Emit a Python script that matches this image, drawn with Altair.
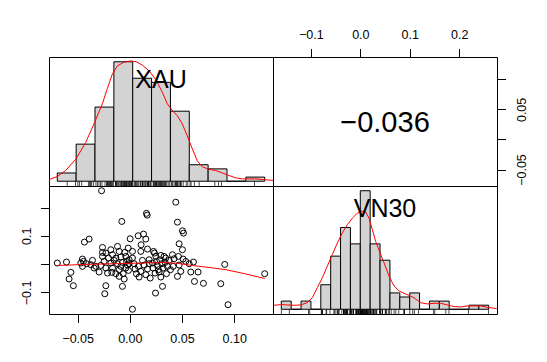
import altair as alt
import pandas as pd

FONT = "Liberation Sans"

# ---- scatter data (XAU, VN30 returns) ----
xau = [-0.0695, -0.0607,
       -0.0565, -0.0582, -0.0541, -0.0454, -0.0444, -0.0454, -0.0435, -0.0415, -0.0470,
       -0.0271, -0.0390, -0.0262, -0.0262, -0.0230, -0.0240, -0.0230, -0.0358, -0.0326,
       -0.0294, -0.0278, -0.0262, -0.0246, -0.0230, -0.0214, -0.0342, -0.0205, -0.0374,
       -0.0182, -0.0118, -0.0166, -0.0102, -0.0077, -0.0071, -0.0016, -0.0182, -0.0166,
       -0.0150, -0.0134, -0.0118, -0.0102, -0.0102, -0.0086, -0.0086, -0.0071, -0.0064,
       -0.0054, -0.0039, -0.0039, -0.0032, -0.0023, -0.0013, -0.0007, -0.0173, -0.0134,
       -0.0048, -0.0007,
       0.0003, 0.0025, 0.0080, 0.0131, 0.0153, 0.0159, 0.0166, 0.0108, 0.0105, 0.0025,
       0.0169, 0.0185, 0.0025, 0.0041, 0.0050, 0.0063, 0.0082, 0.0089, 0.0105, 0.0121,
       0.0137, 0.0153, 0.0169, 0.0185, 0.0195,
       0.0227, 0.0236, 0.0249, 0.0328, 0.0344, 0.0297, 0.0246, 0.0313, 0.0281, 0.0297,
       0.0217, 0.0223, 0.0242, 0.0255, 0.0265, 0.0274, 0.0287, 0.0307, 0.0319, 0.0338,
       0.0351, 0.0360, 0.0376, 0.0389,
       0.0440, 0.0456, 0.0504, 0.0514, 0.0472, 0.0504, 0.0408, 0.0466, 0.0510, 0.0536,
       0.0424, 0.0568, 0.0456, 0.0488, 0.0584, 0.0415, 0.0472,
       0.0609, 0.0619, 0.0654, 0.0705,
       0.0871, 0.0909, 0.0941,
       0.1292]
vn30 = [0.0037, 0.0072,
        -0.0293, -0.0529, -0.0765, 0.0178, 0.0095, -0.0081, 0.0778, 0.0013, 0.0037,
        0.2595, 0.0885, 0.0590, 0.0413, 0.0390, -0.1049, -0.0765, 0.0131, -0.0081,
        -0.0281, -0.0046, 0.0272, 0.0095, -0.0140, -0.0317, -0.0140, 0.0213, -0.0022,
        0.0508, 0.0626, 0.0331, 0.0449, 0.1509, -0.0788, 0.0567, 0.0037, -0.0140,
        0.0131, -0.0340, 0.0013, -0.0199, -0.0434, 0.0249, -0.0081, 0.0060, -0.0340,
        -0.0529, 0.0272, -0.0140, 0.0095, -0.0034, -0.0222, 0.0155, -0.0293, 0.0213,
        0.0413, 0.0013,
        0.0895, -0.1598, 0.1002, 0.1061, 0.0885, 0.1795, 0.1732, 0.0684, 0.0449, 0.0449,
        0.0531, 0.0154, 0.0213, 0.0013, -0.0175, -0.0340, -0.0081, -0.0458, -0.0258, 0.0131,
        -0.0034, -0.0376, -0.0175, 0.0013, -0.0494,
        0.0449, 0.0390, 0.0272, 0.0272, 0.0213, 0.0307, -0.1025, -0.0788, -0.0281, -0.0458,
        0.0037, -0.0140, -0.0317, 0.0095, -0.0058, -0.0199, 0.0154, 0.0013, -0.0140, 0.0060,
        -0.0340, -0.0081, 0.0131, -0.0199,
        0.2190, 0.1484, 0.1178, 0.1095, 0.0719, 0.0508, 0.0331, 0.0272, 0.0178, 0.0095,
        0.0190, 0.0013, -0.0435, -0.0258, -0.0281, -0.0081, -0.0034,
        0.0072, -0.0614, -0.0281, -0.0681,
        -0.0693, -0.0011, -0.1437,
        -0.0340]

# ---- histograms (breaks and counts) ----
xau_breaks = [-0.08, -0.06, -0.04, -0.02, 0.00, 0.02, 0.04, 0.06, 0.08, 0.10, 0.12, 0.14]
xau_counts = [2, 9, 18, 29, 25, 24, 17, 4, 3, 0, 1]
vn30_breaks = [-0.16, -0.14, -0.12, -0.10, -0.08, -0.06, -0.04, -0.02, 0.00, 0.02, 0.04,
               0.06, 0.08, 0.10, 0.12, 0.14, 0.16, 0.18, 0.20, 0.22, 0.24, 0.26]
vn30_counts = [2, 0, 2, 0, 6, 13, 20, 16, 29, 16, 12, 4, 3, 4, 0, 2, 2, 0, 0, 1, 1]

# ---- kernel density curves (in histogram count units) ----
xau_dens_x = [-0.0888, -0.0800, -0.0711, -0.0605, -0.0499, -0.0404, -0.0322, -0.0269,
              -0.0216, -0.0163, -0.0092, -0.0022, 0.0038, 0.0102, 0.0173, 0.0244, 0.0314,
              0.0367, 0.0420, 0.0473, 0.0526, 0.0579, 0.0633, 0.0686, 0.0739, 0.0809,
              0.0880, 0.0951, 0.1021, 0.1092, 0.1163, 0.1234, 0.1304, 0.1375, 0.1488]
xau_dens_y = [0.41, 1.14, 2.61, 5.31, 9.39, 14.3, 18.8, 22.5, 26.0, 28.0, 28.9, 29.2, 29.0,
              28.2, 26.8, 24.7, 21.6, 18.8, 17.2, 15.9, 13.9, 11.0, 7.8, 4.9, 3.5, 2.9,
              2.6, 2.0, 1.4, 0.82, 0.57, 0.57, 0.57, 0.41, 0.2]
vn30_dens_x = [-0.1748, -0.1613, -0.1478, -0.1343, -0.1208, -0.1073, -0.0971, -0.0870,
               -0.0769, -0.0667, -0.0566, -0.0465, -0.0364, -0.0262, -0.0161, -0.0060,
               0.0021, 0.0109, 0.0176, 0.0244, 0.0311, 0.0399, 0.0480, 0.0581, 0.0682,
               0.0784, 0.0885, 0.0986, 0.1087, 0.1222, 0.1357, 0.1492, 0.1627, 0.1762,
               0.1897, 0.2032, 0.2167, 0.2302, 0.2437, 0.2606, 0.2761]
vn30_dens_y = [0.97, 1.14, 1.06, 0.97, 1.06, 1.62, 2.84, 5.28, 7.71, 10.56, 13.4, 16.2,
               18.7, 20.7, 22.3, 23.5, 24.0, 23.8, 22.3, 19.5, 16.6, 13.8, 11.4, 8.1, 5.7,
               4.5, 3.9, 3.4, 2.8, 1.6, 1.3, 1.46, 1.46, 1.06, 0.65, 0.57, 0.81, 0.81,
               0.81, 0.41, 0.16]

# ---- lowess smooth in the scatter panel ----
lowess_x = [-0.0695, -0.045, -0.013, 0.018, 0.033, 0.045, 0.060, 0.076, 0.092, 0.110, 0.1292]
lowess_y = [-0.005, -0.0015, 0.0015, 0.0045, 0.0055, 0.003, -0.005, -0.012, -0.0198, -0.034, -0.051]

corr_text = ["\u22120.036"]
names = ["XAU", "VN30"]

W, H1, H2 = 224, 129, 128


def pad_range(lo, hi, f=0.04):
    r = hi - lo
    return [lo - f * r, hi + f * r]


xau_dom = pad_range(min(xau), max(xau))
vn_dom = pad_range(min(vn30), max(vn30))


def diag_panel(label, breaks, counts, dens_x, dens_y, rug_vals, h):
    xdom = pad_range(breaks[0], breaks[-1])
    cmax = max(counts)
    ydom = [-0.04 * cmax, 1.04 * cmax]
    xs = alt.Scale(domain=xdom, nice=False, zero=False)
    ys = alt.Scale(domain=ydom, nice=False, zero=False)
    bdf = pd.DataFrame({"left": breaks[:-1], "right": breaks[1:], "count": counts,
                        "base": [0] * len(counts)})
    bars = alt.Chart(bdf).mark_rect(fill="#D3D3D3", stroke="black", strokeWidth=1).encode(
        x=alt.X("left:Q", scale=xs, axis=None), x2="right:Q",
        y=alt.Y("base:Q", scale=ys, axis=None), y2="count:Q")
    ddf = pd.DataFrame({"x": dens_x, "y": dens_y})
    dens = alt.Chart(ddf).mark_line(color="red", strokeWidth=1, clip=True).encode(
        x=alt.X("x:Q", scale=xs, axis=None), y=alt.Y("y:Q", scale=ys, axis=None))
    rdf = pd.DataFrame({"v": rug_vals})
    rug = alt.Chart(rdf).mark_rule(color="black", strokeWidth=0.7).encode(
        x=alt.X("v:Q", scale=xs, axis=None),
        y=alt.YDatum(ydom[0], scale=ys, axis=None),
        y2=alt.datum(ydom[0] + 0.035 * (ydom[1] - ydom[0])))
    tdf = pd.DataFrame({"t": [label]})
    txt = alt.Chart(tdf).mark_text(font=FONT, fontSize=25, color="black").encode(
        text="t:N",
        x=alt.XDatum((xdom[0] + xdom[1]) / 2, scale=xs, axis=None),
        y=alt.YDatum(ydom[0] + 0.823 * (ydom[1] - ydom[0]), scale=ys, axis=None))
    return alt.layer(bars, dens, rug, txt).properties(width=W, height=h)


tl = diag_panel(names[0], xau_breaks, xau_counts, xau_dens_x, xau_dens_y, xau, H1)
br = diag_panel(names[1], vn30_breaks, vn30_counts, vn30_dens_x, vn30_dens_y, vn30, H2)

# correlation panel (x: VN30, y: XAU)
cdf = pd.DataFrame({"t": corr_text})
tr = alt.Chart(cdf).mark_text(font=FONT, fontSize=29, color="black").encode(
    text="t:N",
    x=alt.XDatum((vn_dom[0] + vn_dom[1]) / 2,
                 scale=alt.Scale(domain=vn_dom, nice=False, zero=False),
                 axis=alt.Axis(orient="top", values=[-0.1, 0.0, 0.1, 0.2], format=".1f",
                               title=None, labelPadding=7.4)),
    y=alt.YDatum(xau_dom[0] + 0.487 * (xau_dom[1] - xau_dom[0]),
                 scale=alt.Scale(domain=xau_dom, nice=False, zero=False),
                 axis=alt.Axis(orient="right", values=[-0.05, 0.0, 0.05, 0.10], format=".2f",
                               title=None, labelAngle=270, labelAlign="center",
                               labelBaseline="top", labelPadding=10.3,
                               labelExpr="abs(abs(datum.value) - 0.05) < 0.001 ? datum.label : ''")),
).properties(width=W, height=H1)

# scatter panel (x: XAU, y: VN30)
sdf = pd.DataFrame({"xau": xau, "vn30": vn30})
xs_s = alt.Scale(domain=xau_dom, nice=False, zero=False)
ys_s = alt.Scale(domain=vn_dom, nice=False, zero=False)
pts = alt.Chart(sdf).mark_point(shape="circle", filled=False, size=36, color="black",
                                strokeWidth=1, opacity=1).encode(
    x=alt.X("xau:Q", scale=xs_s,
            axis=alt.Axis(orient="bottom", values=[-0.05, 0.0, 0.05, 0.10], format=".2f",
                          title=None, labelPadding=10)),
    y=alt.Y("vn30:Q", scale=ys_s,
            axis=alt.Axis(orient="left", values=[-0.1, 0.0, 0.1, 0.2], format=".1f",
                          title=None, labelAngle=270, labelAlign="center",
                          labelBaseline="bottom", labelPadding=7.1,
                          labelExpr="abs(abs(datum.value) - 0.1) < 0.001 ? datum.label : ''")))
ldf = pd.DataFrame({"x": lowess_x, "y": lowess_y})
low = alt.Chart(ldf).mark_line(color="red", strokeWidth=1).encode(
    x=alt.X("x:Q", scale=xs_s), y=alt.Y("y:Q", scale=ys_s))
bl = alt.layer(pts, low).properties(width=W, height=H2)

chart = alt.concat(tl, tr, bl, br, columns=2, spacing=0, bounds="flush").properties(
    padding={"left": 11, "top": 19, "right": 10, "bottom": 10},
    background="white",
).configure_view(stroke="black", strokeWidth=1).configure_axis(
    labelFont=FONT, labelFontSize=12.5, labelColor="black", tickColor="black",
    tickWidth=1, tickSize=8.5, domain=False, grid=False, labelFlush=False,
    labelOverlap=False)

chart.save("out.html", embed_options={"renderer": "svg", "actions": False})
